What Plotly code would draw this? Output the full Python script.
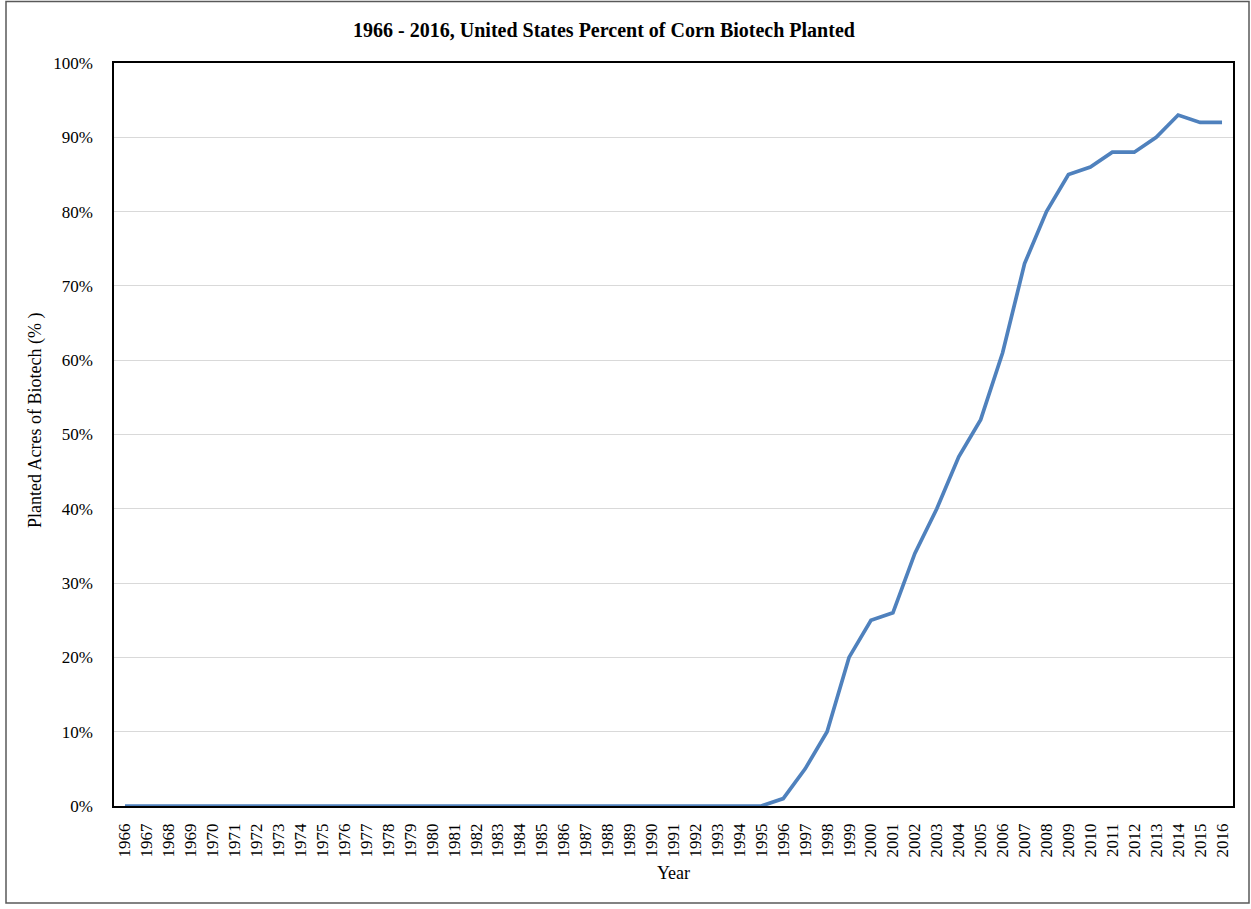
import plotly.graph_objects as go

years = [str(y) for y in range(1966, 2017)]
pct = [0]*30 + [1, 5, 10, 20, 25, 26, 34, 40, 47, 52, 61, 73, 80, 85, 86, 88, 88, 90, 93, 92, 92]
y_ticks = [0, 10, 20, 30, 40, 50, 60, 70, 80, 90, 100]
y_tick_labels = [f"{v}%" for v in y_ticks]

W, H = 1251, 909
L, R, T, B = 114, 1233, 63, 806

def px2x(px):
    return (px - L) / (R - L)

def px2y(py):
    return (B - py) / (B - T)

font = "Liberation Serif, Times New Roman, serif"

fig = go.Figure()
fig.add_trace(go.Scatter(x=years, y=pct, mode="lines",
                         line=dict(color="#4f81bd", width=3.7), showlegend=False))

fig.update_layout(
    width=W, height=H,
    margin=dict(l=L, r=W - R, t=T, b=H - B),
    paper_bgcolor="white", plot_bgcolor="white",
    font=dict(family=font, size=17, color="black"),
    title=dict(text="<b>1966 - 2016, United States Percent of Corn Biotech Planted</b>",
               x=604 / W, xanchor="center", xref="container",
               y=1 - 30 / H, yanchor="middle", yref="container",
               font=dict(size=20, family=font, color="black")),
    xaxis=dict(type="category", range=[-0.5, 50.5], showgrid=False,
               showline=True, linecolor="black", linewidth=1.5, mirror=True,
               ticks="", tickangle=-90, ticklabelstandoff=9,
               tickfont=dict(size=17, family=font),
               title=dict(text="Year", font=dict(size=18, family=font), standoff=10)),
    yaxis=dict(range=[0, 100], tickvals=y_ticks, ticktext=y_tick_labels,
               showgrid=True, gridcolor="#d9d9d9", gridwidth=1,
               showline=True, linecolor="black", linewidth=1.5, mirror=True,
               ticks="", ticklabelstandoff=16, tickfont=dict(size=17, family=font),
               zeroline=False),
    annotations=[dict(text="Planted Acres of Biotech (% )", textangle=-90,
                      xref="paper", yref="paper", x=px2x(35), y=px2y(421),
                      xanchor="center", yanchor="middle", showarrow=False,
                      font=dict(size=18, family=font, color="black"))],
)

fig.add_shape(type="rect", xref="paper", yref="paper",
              x0=px2x(6), x1=px2x(1249), y0=px2y(903), y1=px2y(1.5),
              line=dict(color="#595959", width=1.5), fillcolor="rgba(0,0,0,0)", layer="below")

fig.write_html("out.html")
